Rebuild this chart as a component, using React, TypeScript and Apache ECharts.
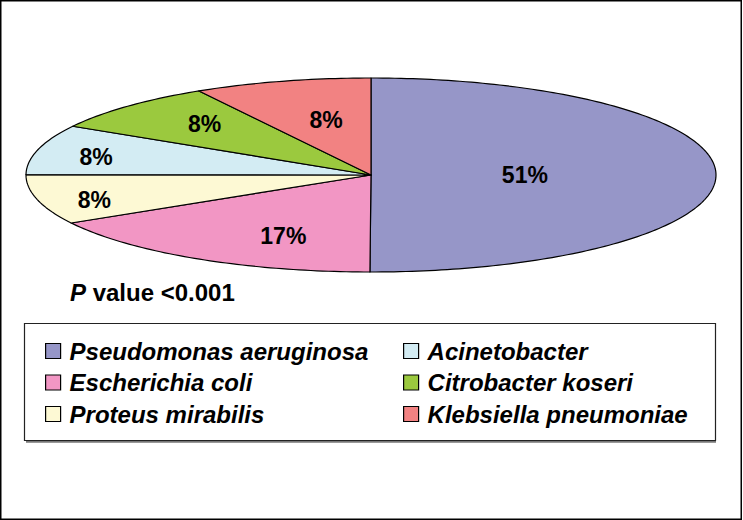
import React, { useEffect, useRef } from "react";
import * as echarts from "echarts";

// ---- data ----
const NAMES = [
  "Pseudomonas aeruginosa",
  "Escherichia coli",
  "Proteus mirabilis",
  "Acinetobacter",
  "Citrobacter koseri",
  "Klebsiella pneumoniae",
];
const SHARES = [50, 16.7, 8.3, 8.3, 8.3, 8.3];
const LABELS = ["51%", "17%", "8%", "8%", "8%", "8%"];
const COLORS = ["#9696C8", "#F296C4", "#FDF9D4", "#D3ECF3", "#9BC93E", "#F28282"];
const LEFT_LEGEND = [NAMES[0], NAMES[1], NAMES[2]];
const RIGHT_LEGEND = [NAMES[3], NAMES[4], NAMES[5]];

// ---- layout (ellipse geometry and label placement) ----
const CX = 371;
const CY = 175;
const RX = 345;
const RY = 97;
const LABEL_FX = [0.446, 0.504, 0.829, 0.826, 0.684, 0.504];
const LABEL_FY = [0, 0.73, 1.0, 0.72, 0.74, 0.59];
const FONT = "'Liberation Sans', Arial, sans-serif";

export default function App() {
  const ref = useRef<HTMLDivElement>(null);
  useEffect(() => {
    if (!ref.current) return;
    const chart = echarts.init(ref.current, null, { renderer: "svg" });
    const total = SHARES.reduce((a, b) => a + b, 0);

    const series = NAMES.map((name, i) => ({
      type: "custom",
      name,
      coordinateSystem: "none",
      data: [[SHARES[i]]],
      renderItem: (params: any, api: any) => {
        const idx = params.seriesIndex;
        const v = api.value(0);
        let before = 0;
        for (let k = 0; k < idx; k++) before += SHARES[k];
        const a0 = (2 * Math.PI * before) / total;
        const a1 = a0 + (2 * Math.PI * v) / total;
        const steps = Math.max(8, Math.ceil(((a1 - a0) / (2 * Math.PI)) * 360));
        const pts: number[][] = [[CX, CY]];
        for (let s = 0; s <= steps; s++) {
          const a = a0 + ((a1 - a0) * s) / steps;
          pts.push([CX + RX * Math.sin(a), CY - RY * Math.cos(a)]);
        }
        const mid = (a0 + a1) / 2;
        const lx = CX + LABEL_FX[idx] * RX * Math.sin(mid);
        const ly = CY - LABEL_FY[idx] * RY * Math.cos(mid);
        return {
          type: "group",
          children: [
            {
              type: "polygon",
              shape: { points: pts },
              style: { fill: COLORS[idx], stroke: "#000", lineWidth: 1.2, lineJoin: "round" },
            },
            {
              type: "text",
              style: {
                text: LABELS[idx],
                x: lx,
                y: ly,
                align: "center",
                verticalAlign: "middle",
                fill: "#000",
                fontSize: 23,
                fontWeight: "bold",
                fontFamily: FONT,
              },
            },
          ],
        };
      },
    }));

    const legendCommon = {
      orient: "vertical",
      selectedMode: false,
      icon: "rect",
      itemWidth: 15,
      itemHeight: 15,
      itemGap: 7.5,
      padding: 0,
      top: 339,
      itemStyle: { borderColor: "#000", borderWidth: 1.2 },
      textStyle: {
        fontSize: 24,
        lineHeight: 24,
        fontWeight: "bold",
        fontStyle: "italic",
        fontFamily: FONT,
        color: "#000",
        padding: [0, 0, 0, 4],
      },
    };

    chart.setOption({
      animation: false,
      backgroundColor: "#fff",
      color: COLORS,
      legend: [
        { ...legendCommon, left: 45, data: LEFT_LEGEND },
        { ...legendCommon, left: 403, data: RIGHT_LEGEND },
      ],
      graphic: [
        {
          type: "rect",
          shape: { x: 0.75, y: 0.75, width: 740.5, height: 518.5 },
          style: { fill: "none", stroke: "#000", lineWidth: 1.5 },
          silent: true,
        },
        {
          type: "line",
          shape: { x1: 26, y1: 441.5, x2: 716, y2: 441.5 },
          style: { stroke: "#777", lineWidth: 2.5 },
          silent: true,
        },
        {
          type: "rect",
          shape: { x: 24.5, y: 323.5, width: 691, height: 117 },
          style: { fill: "none", stroke: "#222", lineWidth: 1.2 },
          silent: true,
        },
        {
          type: "text",
          x: 70,
          y: 292,
          style: {
            text: "{i|P} value <0.001",
            verticalAlign: "middle",
            fill: "#000",
            fontSize: 24,
            fontWeight: "bold",
            fontFamily: FONT,
            rich: {
              i: { fontStyle: "italic", fontSize: 24, fontWeight: "bold", fontFamily: FONT, fill: "#000" },
            },
          },
          silent: true,
        },
      ],
      series,
    });
    return () => chart.dispose();
  }, []);
  return (
    <div
      ref={ref}
      style={{ position: "fixed", left: 0, top: 0, width: 743, height: 520, background: "#fff" }}
    />
  );
}
